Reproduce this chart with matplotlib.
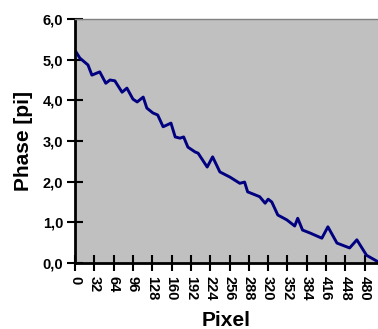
import matplotlib
matplotlib.use("Agg")
import matplotlib.pyplot as plt

pixel = [1.7, 8, 21.5, 28, 41, 51, 58, 66, 78, 86, 96, 103, 113, 119, 129, 137, 146,
         159, 166, 174, 180, 187, 199, 204, 219, 228, 240, 257, 273, 281, 286, 306,
         315, 320, 326, 336, 351, 364, 369, 377, 389, 409, 419, 434, 455, 467, 483, 502]
phase = [5.19, 5.04, 4.87, 4.62, 4.70, 4.42, 4.50, 4.48, 4.20, 4.30, 4.03, 3.96, 4.08,
         3.81, 3.69, 3.64, 3.35, 3.44, 3.10, 3.07, 3.10, 2.85, 2.73, 2.70, 2.36, 2.61,
         2.24, 2.11, 1.96, 1.99, 1.75, 1.63, 1.47, 1.57, 1.50, 1.18, 1.06, 0.91, 1.10,
         0.81, 0.74, 0.61, 0.89, 0.49, 0.37, 0.57, 0.19, 0.03]
xticks = list(range(0, 481, 32))
yticks = [0, 1, 2, 3, 4, 5, 6]
ylabels = ["0,0", "1,0", "2,0", "3,0", "4,0", "5,0", "6,0"]

plt.rcParams['font.family'] = ['Liberation Sans', 'DejaVu Sans']
fig = plt.figure(figsize=(3.78, 3.29), dpi=100)
ax = fig.add_axes([75/378, 1-263/329, (378-75)/378, (263-19)/329])
ax.set_facecolor('#C0C0C0')
ax.plot(pixel, phase, color='#000080', lw=2.1)
ax.set_xlim(0, 502)
ax.set_ylim(0, 6)
ax.set_xticks(xticks)
ax.set_xticklabels([str(t) for t in xticks], rotation=-90, fontsize=10.5, fontweight='bold')
ax.set_yticks(yticks)
ax.set_yticklabels(ylabels, fontsize=10.5, fontweight='bold')
ax.tick_params(direction='inout', length=11, width=1.5)
ax.tick_params(axis='y', pad=3)
ax.tick_params(axis='x', pad=4)
for s in ['left', 'bottom']:
    ax.spines[s].set_linewidth(2)
    ax.spines[s].set_color('black')
ax.spines['top'].set_color('#808080')
ax.spines['top'].set_linewidth(1)
ax.spines['right'].set_visible(False)
ax.set_xlabel('Pixel', fontsize=15, fontweight='bold', labelpad=7)
ax.set_ylabel('Phase [pi]', fontsize=15, fontweight='bold', labelpad=7)
fig.savefig('out.png', dpi=100)
